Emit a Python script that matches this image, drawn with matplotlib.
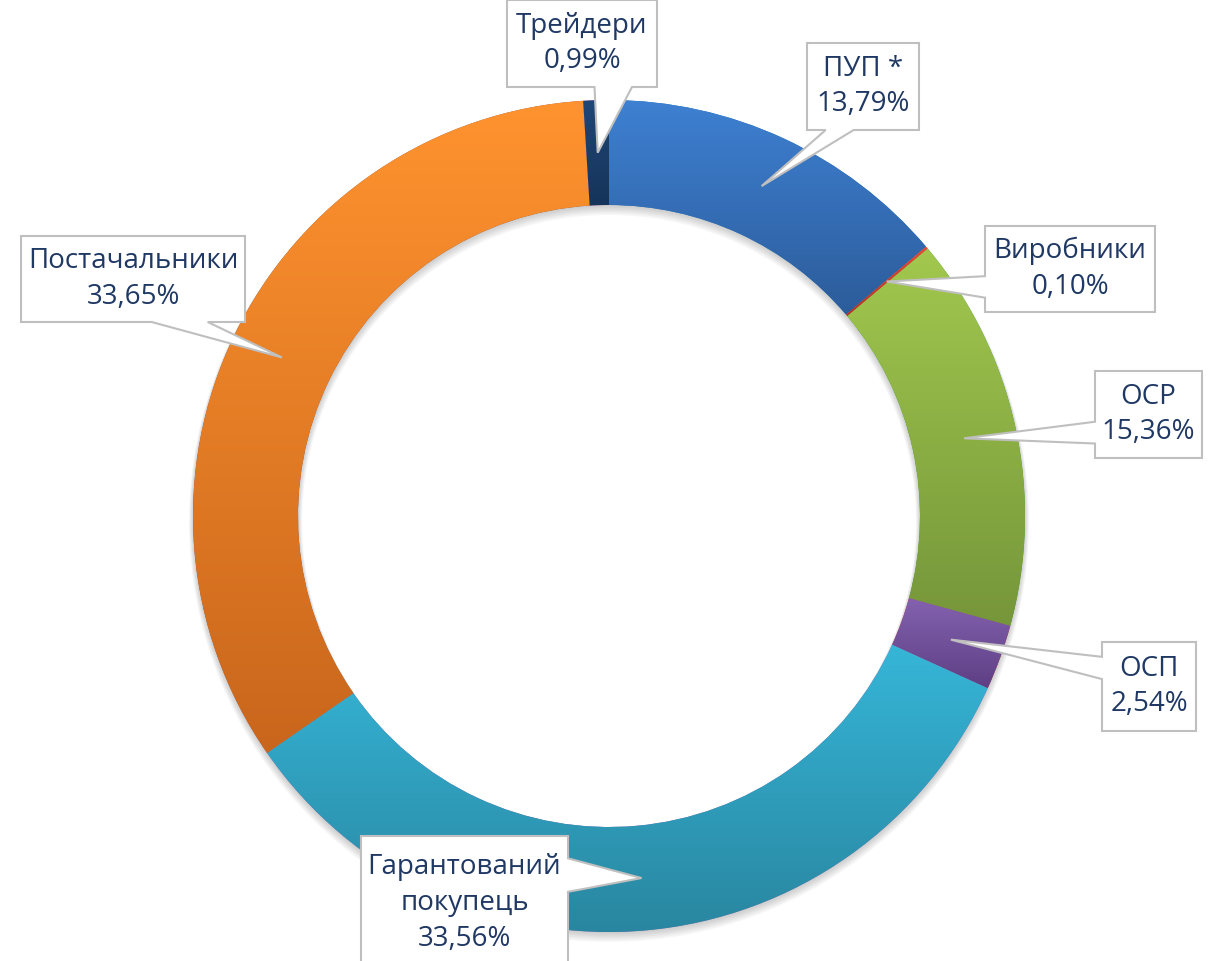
import numpy as np
import matplotlib
matplotlib.use('Agg')
import matplotlib.pyplot as plt
from matplotlib.colors import LinearSegmentedColormap
from matplotlib.patches import Polygon, Wedge

W, H = 1209, 961

names = ['ПУП *', 'Виробники', 'ОСР', 'ОСП', 'Гарантований\nпокупець', 'Постачальники', 'Трейдери']
shares = [13.79, 0.10, 15.36, 2.54, 33.56, 33.65, 0.99]
top_colors = ['#3E80D2', '#E04A3A', '#A2C84E', '#8462B0', '#36B6D8', '#FF932F', '#1F4676']
bottom_colors = ['#2C5C9A', '#B0302A', '#76963A', '#5E3F84', '#2986A0', '#C9661C', '#16345A']

# callout boxes in pixel coords (left, top, width, height)
boxes = [(807, 43, 112, 87), (985, 226, 170, 86), (1095, 371, 107, 87),
         (1102, 642, 94, 89), (361, 836, 207, 134), (21, 236, 224, 86),
         (507, 0, 150, 87)]

CX, CY = 609, H - 516
R_OUT, R_IN = 416, 311
TEXT_COLOR = '#1F3864'


def callout_points(x0, y0, w, h, tx, ty):
    # wedge rect callout like in Excel, pixel coords with y down
    hc, vc = x0 + w / 2, y0 + h / 2
    dx, dy = tx - hc, ty - vc
    dq = dx * h / w
    x1 = x0 + w * (7 if tx > hc else 2) / 12
    x2 = x0 + w * (10 if tx > hc else 5) / 12
    y1 = y0 + h * (7 if ty > vc else 2) / 12
    y2 = y0 + h * (10 if ty > vc else 5) / 12
    xr, yb = x0 + w, y0 + h
    if abs(dy) > abs(dq):
        if dy > 0:
            pts = [(x0, y0), (xr, y0), (xr, yb), (x2, yb), (tx, ty), (x1, yb), (x0, yb)]
        else:
            pts = [(x0, y0), (x1, y0), (tx, ty), (x2, y0), (xr, y0), (xr, yb), (x0, yb)]
    else:
        if dx > 0:
            pts = [(x0, y0), (xr, y0), (xr, y1), (tx, ty), (xr, y2), (xr, yb), (x0, yb)]
        else:
            pts = [(x0, y0), (xr, y0), (xr, yb), (x0, yb), (x0, y2), (tx, ty), (x0, y1)]
    return [(px, H - py) for px, py in pts]


fig = plt.figure(figsize=(W / 100, H / 100), dpi=100)
ax = fig.add_axes([0, 0, 1, 1])

# soft shadow below the ring
for k in range(6):
    off = 1 + k
    grow = k * 0.8
    ax.add_patch(Wedge((CX, CY - off), R_OUT + grow, 0, 360, width=R_OUT - R_IN + 2 * grow,
                       facecolor='black', alpha=0.035, linewidth=0, zorder=1))

wedges, _ = ax.pie(shares, radius=R_OUT, center=(CX, CY), startangle=90,
                   counterclock=False, wedgeprops=dict(width=R_OUT - R_IN, linewidth=0, zorder=2))

grad = np.linspace(1, 0, 256).reshape(-1, 1)
for w, c_top, c_bot in zip(wedges, top_colors, bottom_colors):
    ext = w.get_path().get_extents()
    cmap = LinearSegmentedColormap.from_list('g', [c_bot, c_top])
    im = ax.imshow(grad, cmap=cmap, extent=[ext.x0, ext.x1, ext.y0, ext.y1],
                   aspect='auto', origin='upper', zorder=3, interpolation='bilinear')
    im.set_clip_path(w)

total = sum(shares)
start = 90.0
for name, val, (bx, by, bw, bh) in zip(names, shares, boxes):
    mid = np.deg2rad(start - val / total * 360 / 2)
    start -= val / total * 360
    r_mid = (R_OUT + R_IN) / 2
    tx = CX + r_mid * np.cos(mid)
    ty = H - (CY + r_mid * np.sin(mid))
    poly = Polygon(callout_points(bx, by, bw, bh, tx, ty), closed=True,
                   facecolor='white', edgecolor='#BFBFBF', linewidth=1.5, zorder=5)
    ax.add_patch(poly)
    label = f"{name}\n{val:.2f}%".replace('.', ',')
    ax.text(bx + bw / 2, H - (by + bh / 2), label, ha='center', va='center',
            fontsize=20, color=TEXT_COLOR, family=['Open Sans', 'DejaVu Sans'],
            linespacing=1.38, zorder=6)

ax.set_xlim(0, W)
ax.set_ylim(0, H)
ax.set_aspect('equal')
ax.axis('off')

fig.savefig('out.png', dpi=100)
